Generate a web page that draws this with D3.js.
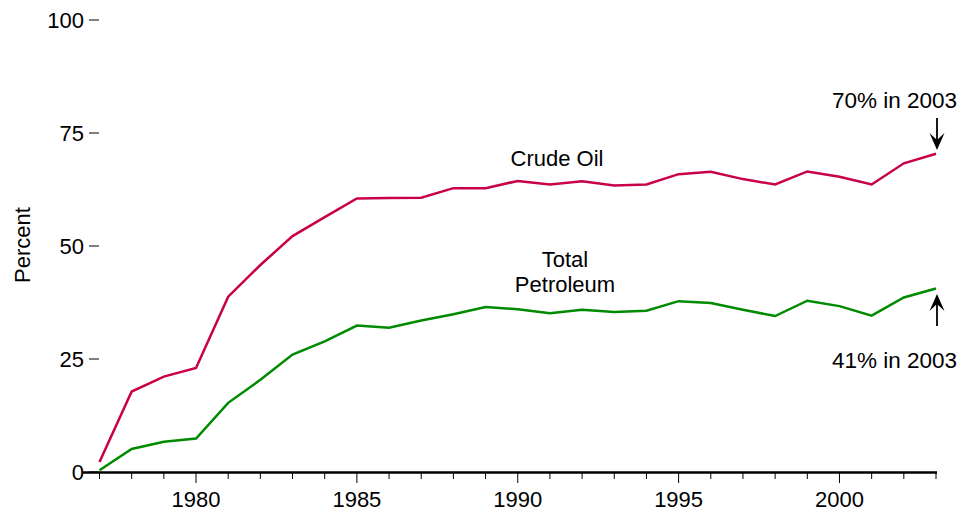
<!DOCTYPE html>
<html><head><meta charset="utf-8">
<script src="https://cdn.jsdelivr.net/npm/d3@7"></script>
<style>body{margin:0;background:#fff}svg{display:block;font-family:"Liberation Sans",Arial,sans-serif}</style>
</head><body><svg id="c" width="961" height="513"></svg>
<script>
const years = d3.range(1977, 2004);
const crudeOil = [2.2,17.8,21.1,23.0,38.8,45.8,52.2,56.4,60.5,60.6,60.7,62.8,62.8,64.4,63.6,64.3,63.4,63.6,65.9,66.4,64.8,63.6,66.5,65.3,63.6,68.3,70.4];
const totalPetroleum = [0.4,5.1,6.7,7.4,15.3,20.4,26.0,28.9,32.4,31.9,33.5,34.9,36.5,36.0,35.1,35.9,35.4,35.7,37.8,37.4,35.9,34.5,37.9,36.7,34.6,38.6,40.6];
const yTicks = [0,25,50,75,100];
const xMajor = [1980,1985,1990,1995,2000];

const FS = 22;
const svg = d3.select("#c");
const x = d3.scaleLinear().domain([1977,2003]).range([99.5,936]);
const y = d3.scaleLinear().domain([0,100]).range([472,20]);

// y axis ticks
const ya = svg.append("g");
yTicks.forEach(t=>{
  ya.append("line").attr("x1",89).attr("x2",99).attr("y1",y(t)).attr("y2",y(t)).attr("stroke","#000").attr("stroke-width",1);
  ya.append("text").attr("x",84).attr("y",y(t)+8).attr("text-anchor","end").attr("font-size",FS).text(t);
});
svg.append("text").attr("transform","translate(30,245) rotate(-90)").attr("text-anchor","middle").attr("font-size",FS).text("Percent");

// x axis
const xa = svg.append("g");
xa.append("line").attr("x1",83).attr("x2",937).attr("y1",472.5).attr("y2",472.5).attr("stroke","#000").attr("stroke-width",2.5);
years.forEach(yr=>{
  const major = xMajor.includes(yr);
  xa.append("line").attr("x1",x(yr)).attr("x2",x(yr)).attr("y1",472).attr("y2",major?483:479).attr("stroke","#000").attr("stroke-width",1);
});
xMajor.forEach(yr=>{
  xa.append("text").attr("x",x(yr)).attr("y",507).attr("text-anchor","middle").attr("font-size",FS).text(yr);
});

const line = d3.line().x((d,i)=>x(years[i])).y(d=>y(d));
svg.append("path").datum(crudeOil).attr("d",line).attr("fill","none").attr("stroke","#c8004a").attr("stroke-width",2.5);
svg.append("path").datum(totalPetroleum).attr("d",line).attr("fill","none").attr("stroke","#008a00").attr("stroke-width",2.5);

// labels
svg.append("text").attr("x",557).attr("y",166).attr("text-anchor","middle").attr("font-size",FS).text("Crude Oil");
svg.append("text").attr("x",565).attr("y",267).attr("text-anchor","middle").attr("font-size",FS).text("Total");
svg.append("text").attr("x",565).attr("y",292).attr("text-anchor","middle").attr("font-size",FS).text("Petroleum");
svg.append("text").attr("x",957).attr("y",108).attr("text-anchor","end").attr("font-size",22.5).text("70% in 2003");
svg.append("text").attr("x",957).attr("y",368).attr("text-anchor","end").attr("font-size",22.5).text("41% in 2003");

// arrows
function arrow(xp, yFrom, yTo){
  const dir = yTo>yFrom?1:-1;
  svg.append("line").attr("x1",xp).attr("x2",xp).attr("y1",yFrom).attr("y2",yTo-dir*4).attr("stroke","#000").attr("stroke-width",1.8);
  const hw=7.5, hl=17, notch=7;
  const p = [[xp,yTo],[xp-hw,yTo-dir*hl],[xp,yTo-dir*(hl-notch)],[xp+hw,yTo-dir*hl]];
  svg.append("path").attr("d","M"+p.map(q=>q.join(",")).join("L")+"Z").attr("fill","#000");
}
arrow(937,118,150);
arrow(937,326,294);
</script></body></html>
